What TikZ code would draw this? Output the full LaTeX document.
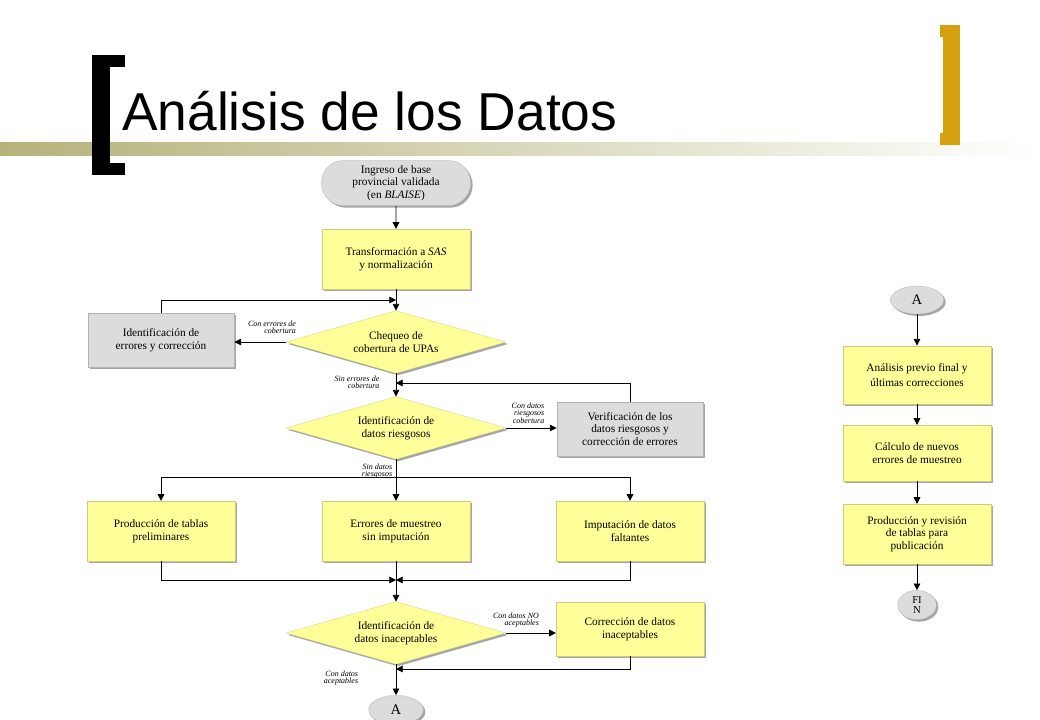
\documentclass[tikz,border=0pt]{standalone}
\usepackage{fontspec}
\setmainfont{Liberation Serif}
\newfontfamily\titlefont{Liberation Sans}
\usetikzlibrary{shapes.geometric,shapes.misc,shadows,arrows.meta,calc}
\definecolor{ylw}{HTML}{FFFF99}
\definecolor{gry}{HTML}{DCDCDC}
\definecolor{gold}{HTML}{D4A00F}
\definecolor{olive}{HTML}{B5B27A}
\tikzset{
 base/.style={font=\fontsize{8.5}{9.5}\selectfont, align=center, inner sep=1pt,
   drop shadow={shadow xshift=1.5pt,shadow yshift=-1.5pt,fill=gray!70,opacity=1}},
 ybox/.style={base, fill=ylw, draw=ylw!80!black, line width=0.2pt, minimum width=111pt, minimum height=45pt},
 gbox/.style={base, fill=gry, draw=gray!60, line width=0.2pt, minimum width=110pt, minimum height=41pt},
 dia/.style={base, diamond, aspect=3.5, fill=ylw, draw=ylw!80!black, line width=0.2pt, minimum width=165pt, minimum height=47pt, inner sep=0pt},
 oval/.style={base, ellipse, fill=gry, draw=gray!60, line width=0.2pt},
 lbl/.style={font=\fontsize{6}{5.5}\selectfont\itshape, align=right, inner sep=0pt},
 arr/.style={-{Triangle[length=5pt,width=5pt]}, line width=0.6pt},
 ln/.style={line width=0.6pt}
}
\begin{document}
\begin{tikzpicture}[x=0.75pt,y=-0.75pt]
\useasboundingbox (0,0) rectangle (1040,720);
% title band
\shade[left color=olive, right color=white] (0,143) rectangle (1040,156);
\fill[black] (92,55) rectangle (110,175);
\fill[black] (92,55) rectangle (125,67);
\fill[black] (92,163) rectangle (125,175);
\fill[gold] (943,25) rectangle (960,145);
\fill[gold] (940,25) rectangle (960,37);
\fill[gold] (940,133) rectangle (960,145);
\node[anchor=base west, font=\titlefont\fontsize{40}{40}\selectfont, inner sep=0pt] (title) at (122,131) {Análisis de los Datos};
% nodes
\node[base, rounded rectangle, fill=gry, draw=gray!60, line width=0.2pt, minimum width=114pt, minimum height=34pt] (start) at (396,183) {Ingreso de base\\provincial validada\\(en \textit{BLAISE})};
\node[ybox] (trans) at (396,259) {Transformación a \textit{SAS}\\y normalización};
\node[dia] (cheq) at (396,342) {Chequeo de\\cobertura de UPAs};
\node[gbox] (iderr) at (161,340) {Identificación de\\errores y corrección};
\node[dia] (idries) at (396,428) {Identificación de\\datos riesgosos};
\node[gbox] (verif) at (630,429) {Verificación de los\\datos riesgosos y\\corrección de errores};
\node[ybox] (prod) at (161,531) {Producción de tablas\\preliminares};
\node[ybox] (errm) at (396,531) {Errores de muestreo\\sin imputación};
\node[ybox] (imput) at (630,531) {Imputación de datos\\faltantes};
\node[dia] (idinac) at (396,633) {Identificación de\\datos inaceptables};
\node[ybox, minimum height=41pt] (correc) at (630,629) {Corrección de datos\\inaceptables};
\node[oval, minimum width=41pt, minimum height=22pt, font=\fontsize{11}{11}\selectfont] (A1) at (396,710) {A};
\node[oval, minimum width=40pt, minimum height=21pt, font=\fontsize{11}{11}\selectfont] (A2) at (917,300) {A};
\node[ybox, minimum height=44pt] (anal) at (917,375) {Análisis previo final y\\[2pt]últimas correcciones};
\node[ybox, minimum height=42pt] (calc) at (917,453) {Cálculo de nuevos\\errores de muestreo};
\node[ybox, minimum height=45pt] (prodrev) at (917,534) {Producción y revisión\\de tablas para\\publicación};
\node[oval, minimum width=29pt, minimum height=22pt, font=\fontsize{8}{7}\selectfont] (fin) at (917,605) {FI\\N};
% connectors
\draw[arr] (start) -- (trans);
\draw[arr] (trans) -- (cheq);
\coordinate (j1) at (396,300);
\draw[arr] (iderr.north) |- (j1);
\draw[arr] (cheq.west) -- (cheq.west -| iderr.east);
\node[lbl] (l1) at (272,327) {Con errores de\\cobertura};
\draw[arr] (cheq.south) -- (idries.north);
\node[lbl] (l2) at (357,382) {Sin errores de\\cobertura};
\coordinate (j2) at (396,383);
\draw[arr] (verif.north) |- (j2);
\draw[arr] (idries.east) -- (idries.east -| verif.west);
\node[lbl] (l3) at (528,413) {Con datos\\riesgosos\\cobertura};
\coordinate (j3) at (396,477);
\draw[ln] (idries.south) -- (j3);
\draw[arr] (j3) -| (prod.north);
\draw[arr] (j3) -| (imput.north);
\draw[arr] (j3) -- (errm.north);
\node[lbl] (l4) at (377,471) {Sin datos\\riesgosos};
\coordinate (j4) at (396,580);
\draw[arr] (prod.south) |- (j4);
\draw[arr] (imput.south) |- (j4);
\draw[arr] (errm.south) -- (idinac.north);
\draw[arr] (idinac.east) -- (idinac.east -| correc.west);
\node[lbl] (l5) at (516,620) {Con datos NO\\aceptables};
\coordinate (j5) at (396,669);
\draw[arr] (correc.south) |- (j5);
\draw[arr] (idinac.south) -- (A1.north);
\node[lbl] (l6) at (341,678) {Con datos\\aceptables};
\draw[arr] (A2) -- (anal);
\draw[arr] (anal) -- (calc);
\draw[arr] (calc) -- (prodrev);
\draw[arr] (prodrev) -- (fin);
\end{tikzpicture}
\end{document}
